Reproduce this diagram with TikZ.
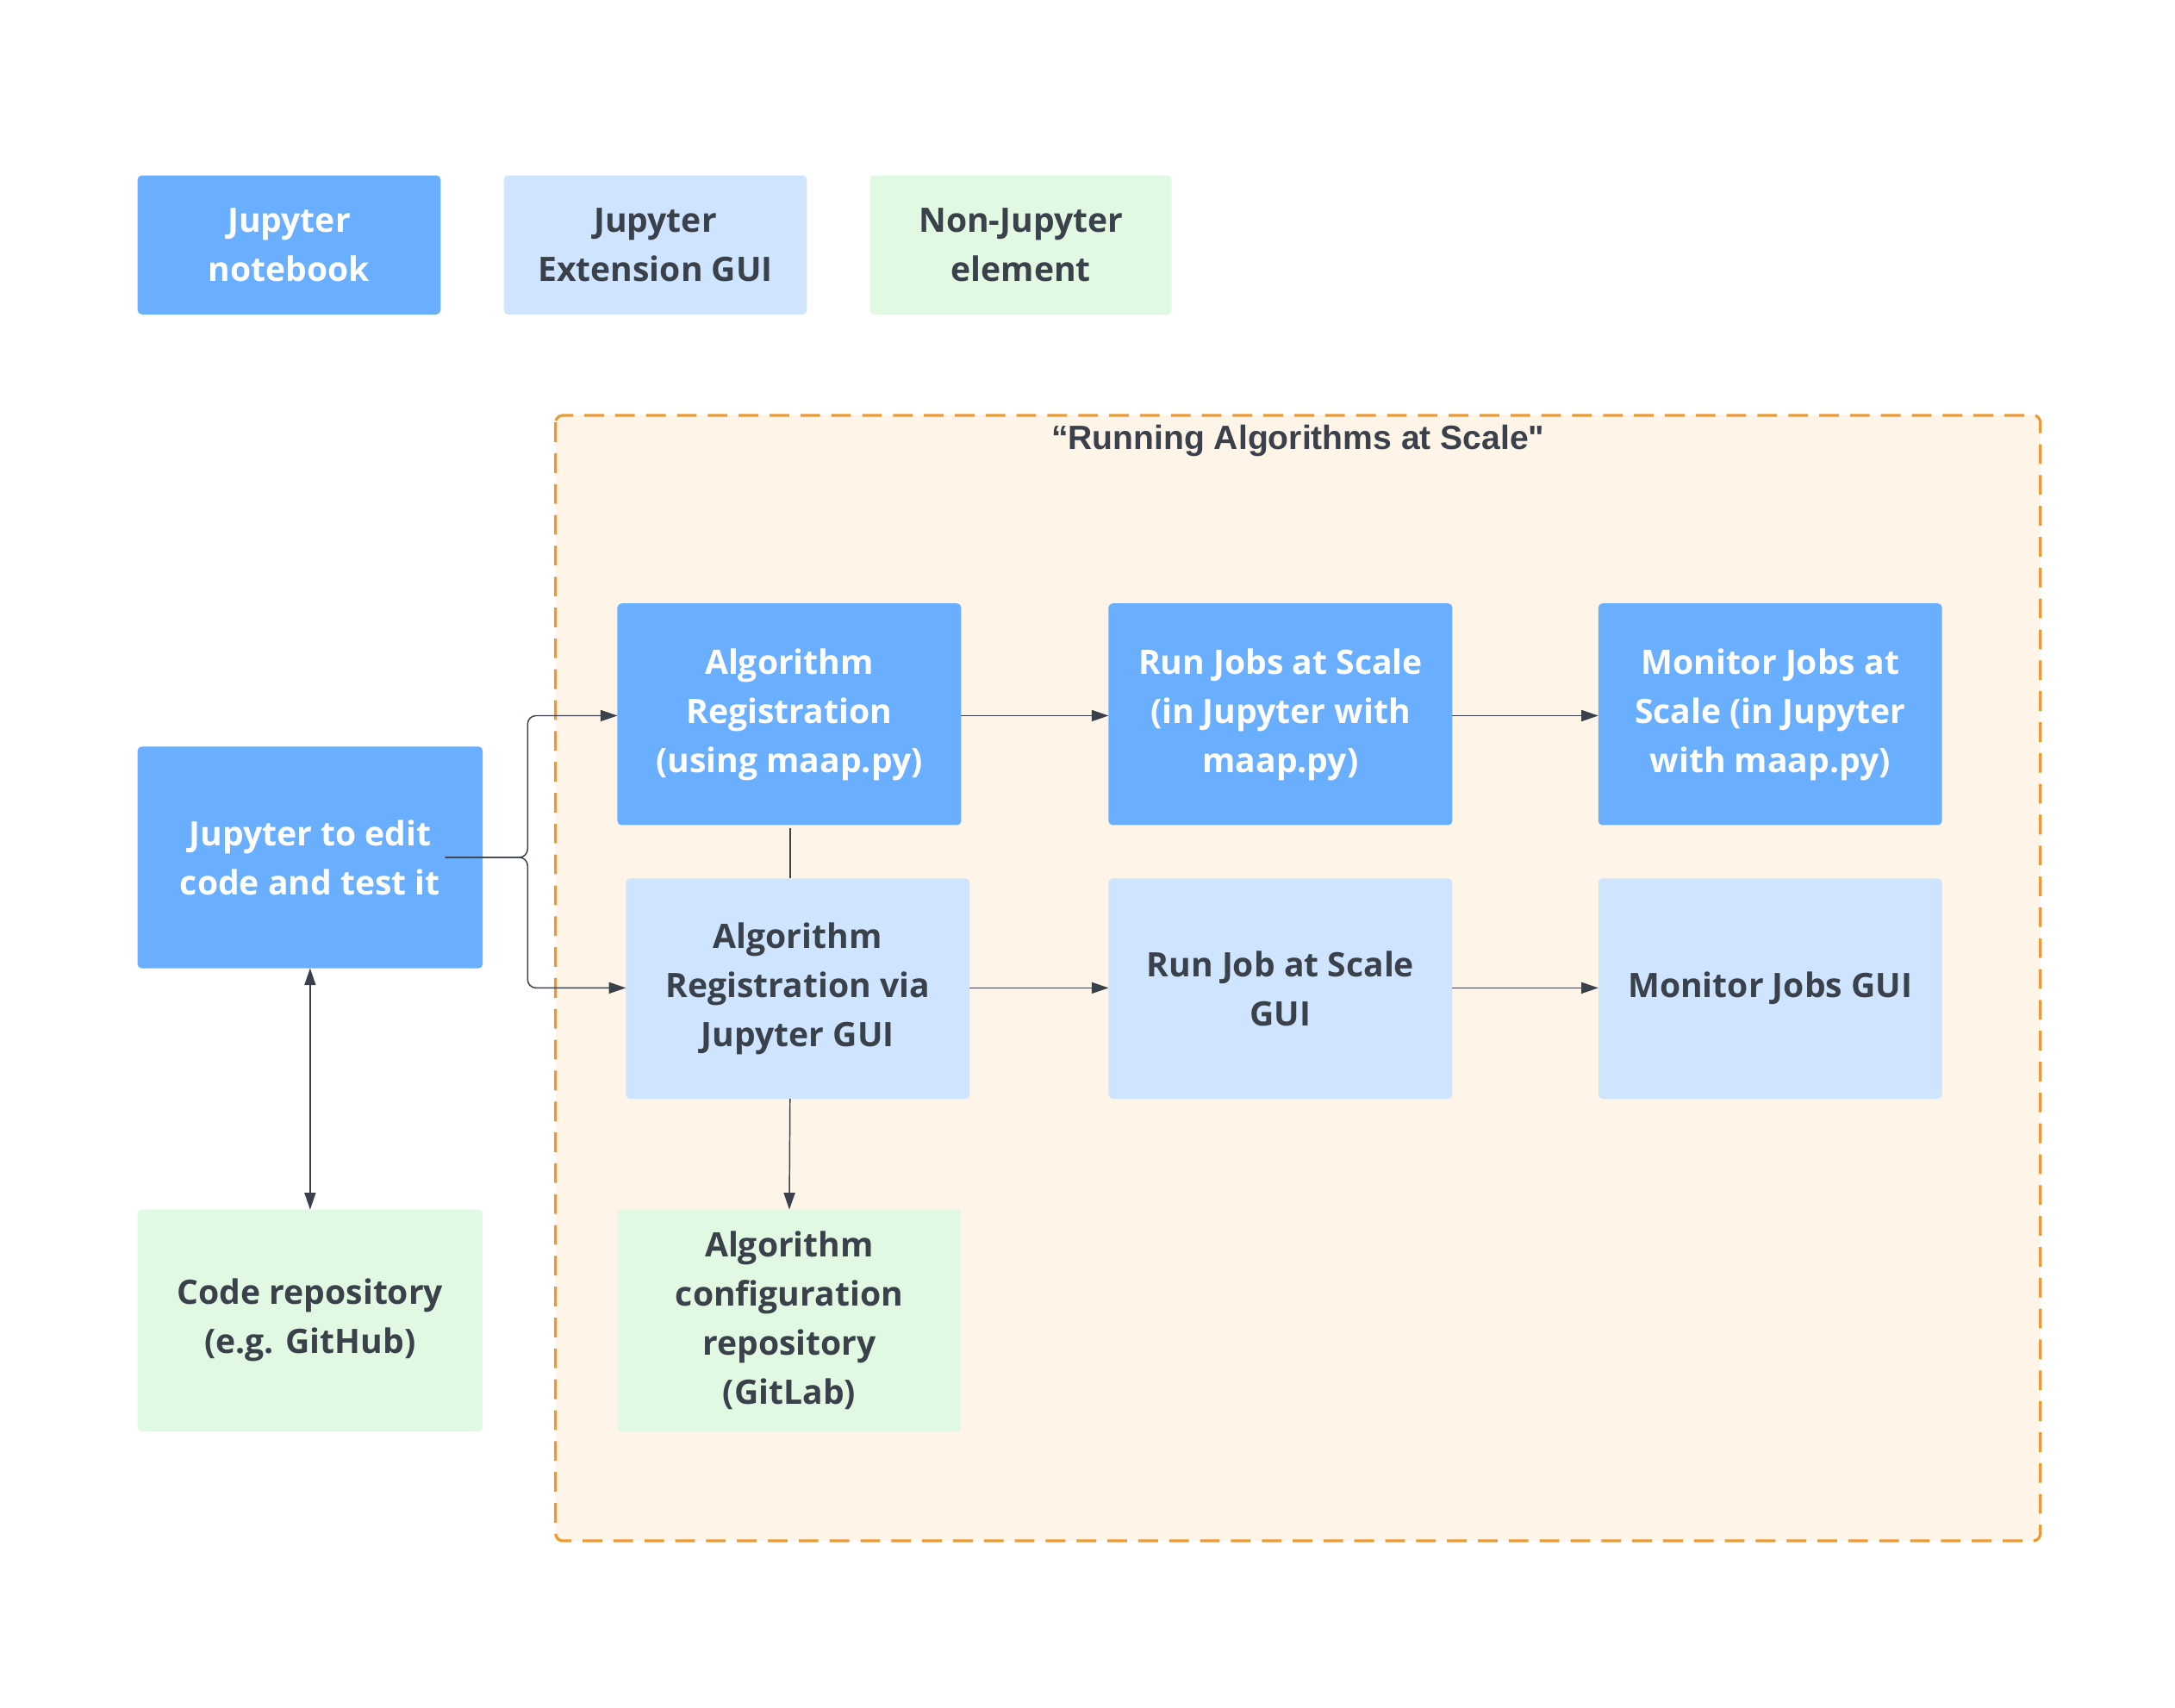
\documentclass[tikz,border=0pt]{standalone}
\usepackage{fontspec}
\setmainfont{Open Sans}
\newfontfamily\titlefont{Liberation Sans}
\usetikzlibrary{arrows.meta}
\definecolor{nb}{HTML}{6AAEFF}
\definecolor{ext}{HTML}{CFE4FF}
\definecolor{non}{HTML}{E1F8E3}
\definecolor{txt}{HTML}{3A414A}
\definecolor{frame}{HTML}{EE9A33}
\definecolor{framefill}{HTML}{FEF4E8}
\begin{document}
\begin{tikzpicture}[x=1pt,y=-1pt,
 box/.style={rounded corners=3pt,font=\bfseries\fontsize{24}{35}\selectfont,align=center},
 nbs/.style={box,fill=nb,text=white},
 exs/.style={box,fill=ext,text=txt},
 nos/.style={box,fill=non,text=txt},
 conn/.style={draw=txt,line width=0.9pt,-{Triangle[length=12pt,width=8pt]}}]
\useasboundingbox (0,0) rectangle (1550,1217);
\fill[white] (0,0) rectangle (1550,1217);
\def\bx#1#2#3#4#5#6#7{\path[#2] (#3,#4) rectangle (#5,#6); \node[#2,fill=none,draw=none] (#1) at ({(#3+#5)/2},{(#4+#6)/2}) {#7};
 \coordinate (#1N) at ({(#3+#5)/2},#4); \coordinate (#1S) at ({(#3+#5)/2},#6);}
% legend
\bx{l1}{nbs}{98}{125}{314}{224}{Jupyter\\notebook}
\bx{l2}{exs}{359}{125}{575}{224}{Jupyter\\Extension GUI}
\bx{l3}{nos}{620}{125}{835}{224}{Non-Jupyter\\element}
% frame
\draw[frame,fill=framefill,line width=2pt,dash pattern=on 14pt off 8pt,rounded corners=5pt] (396,296) rectangle (1454,1098);
\node[text=txt,font=\titlefont\bfseries\fontsize{24}{28}\selectfont] (title) at (925,314) {“Running Algorithms at Scale"};
% nodes
\bx{ar}{nbs}{440}{430}{685}{588}{Algorithm\\Registration\\(using maap.py)}
\bx{rj}{nbs}{790}{430}{1035}{588}{Run Jobs at Scale\\(in Jupyter with\\maap.py)}
\bx{mj}{nbs}{1139}{430}{1384}{588}{Monitor Jobs at\\Scale (in Jupyter\\with maap.py)}
\bx{arg}{exs}{446}{626}{691}{783}{Algorithm\\Registration via\\Jupyter GUI}
\bx{rjg}{exs}{790}{626}{1035}{783}{Run Job at Scale\\GUI}
\bx{mjg}{exs}{1139}{626}{1384}{783}{Monitor Jobs GUI}
\bx{je}{nbs}{98}{532}{344}{690}{Jupyter to edit\\code and test it}
\bx{cr}{nos}{98}{862}{344}{1020}{Code repository\\(e.g. GitHub)}
\bx{ac}{nos}{440}{862}{685}{1020}{Algorithm\\configuration\\repository\\(GitLab)}
% connectors
\draw[conn,rounded corners=6pt] (je.east|-0,611) -- (376,611) -- (376,510) -- (440,510);
\draw[conn,rounded corners=6pt] (je.east|-0,611) -- (376,611) -- (376,704) -- (446,704);
\path (344,611) coordinate (jeE);
\draw[conn] (685,510) -- (790,510);
\draw[conn] (1035,510) -- (1139,510);
\draw[conn] (691,704) -- (790,704);
\draw[conn] (1035,704) -- (1139,704);
\draw[draw=txt,line width=0.9pt] (563,590) -- (563,626);
\draw[conn] (563,783) -- (acN);
\draw[conn,{Triangle[length=12pt,width=8pt]}-{Triangle[length=12pt,width=8pt]}] (jeS) -- (crN);
\end{tikzpicture}
\end{document}
